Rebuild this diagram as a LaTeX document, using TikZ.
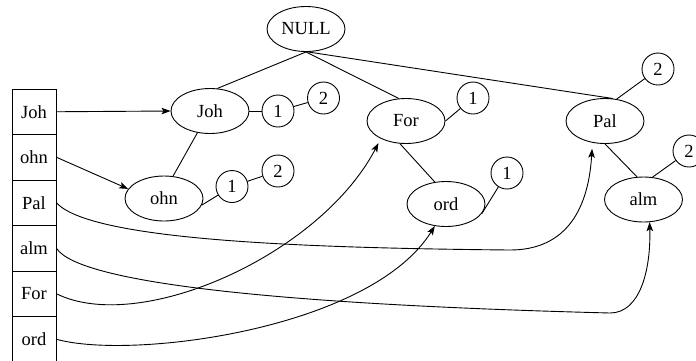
\documentclass[tikz,border=0pt]{standalone}
\usepackage{fontspec}
\setmainfont{Liberation Serif}
\usetikzlibrary{shapes.geometric,arrows.meta}
\begin{document}
\begin{tikzpicture}[x=1pt,y=-1pt,line width=0.9pt,
  every node/.style={font=\fontsize{18.5}{20}\selectfont},
  key/.style={draw, ellipse, minimum width=78pt, minimum height=45pt, inner sep=0pt},
  cnt/.style={draw, circle, minimum size=32pt, inner sep=0pt},
  cell/.style={draw, rectangle, minimum width=44pt, minimum height=45.5pt, inner sep=0pt},
  ptr/.style={-{Stealth[length=9pt,width=6.5pt,inset=2pt]}}]
\useasboundingbox (0,0) rectangle (696,360);

% hash table cells
\node[cell] (b1) at (34,111.75) {Joh};
\node[cell] (b2) at (34,157.25) {ohn};
\node[cell] (b3) at (34,202.75) {Pal};
\node[cell] (b4) at (34,248.25) {alm};
\node[cell] (b5) at (34,293.75) {For};
\node[cell] (b6) at (34,339.25) {ord};

% trie nodes
\node[key] (null) at (306,29) {NULL};
\node[key] (joh) at (210,111) {Joh};
\node[key] (ohn) at (164,198.5) {ohn};
\node[key] (for) at (406,121) {For};
\node[key] (pal) at (605,121) {Pal};
\node[key] (ord) at (446,204) {ord};
\node[key] (alm) at (643.5,199.5) {alm};

% counters
\node[cnt] (j1) at (278,111) {1};
\node[cnt] (j2) at (323.5,98) {2};
\node[cnt] (o1) at (232,186.5) {1};
\node[cnt] (o2) at (278,171) {2};
\node[cnt] (f1) at (473,98) {1};
\node[cnt] (p2) at (658,69) {2};
\node[cnt] (d1) at (507,173) {1};
\node[cnt] (a2) at (689,151) {2};

% tree edges
\draw (null.south) -- (joh.72);
\draw (null.south) -- (for.108);
\draw (null.-85) -- (pal.71);
\draw (joh.240) -- (ohn.68);
\draw (joh) -- (j1);
\draw (j1) -- (j2);
\draw (ohn.-10) -- (o1);
\draw (o1) -- (o2);
\draw (for.east) -- (f1);
\draw (for.255) -- (ord.117);
\draw (ord.-15) -- (d1);
\draw (pal.62) -- (p2);
\draw (pal.south) -- (alm.106);
\draw (alm.68) -- (a2);

% pointers from the table
\coordinate (palbend) at (510,250);
\coordinate (almbend) at (610,313);
\draw[ptr,shorten >=6pt] (b3.east) .. controls (90,240) and (300,248) .. (palbend)
  .. controls (562,250) and (588,215) .. (pal.240);
\draw[ptr] (b4.east) .. controls (80,285) and (300,305) .. (almbend)
  .. controls (640,313) and (651,270) .. (alm.285);
\draw[ptr,shorten >=5pt] (b5.east) .. controls (140,335) and (320,255) .. (for.215);
\draw[ptr] (b6.east) .. controls (130,360) and (370,330) .. (ord.243);
\draw[ptr] (b1.east) -- (joh.west);
\draw[ptr] (b2.east) -- (ohn.165);
\end{tikzpicture}
\end{document}
